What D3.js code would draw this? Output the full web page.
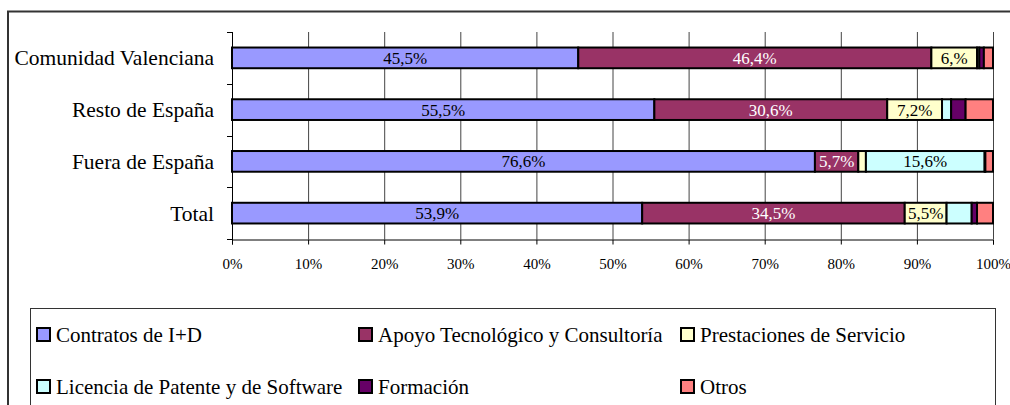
<!DOCTYPE html>
<html>
<head>
<meta charset="utf-8">
<script src="https://cdn.jsdelivr.net/npm/d3@7"></script>
<style>
  body { margin: 0; background: #fff; }
  svg { display: block; font-family: "Liberation Serif", "Times New Roman", serif; }
</style>
</head>
<body>
<svg id="chart" width="1010" height="405"></svg>
<script>
// data (percent of each row)
const categories = ["Comunidad Valenciana", "Resto de España", "Fuera de España", "Total"];
const seriesNames = ["Contratos de I+D", "Apoyo Tecnológico y Consultoría", "Prestaciones de Servicio",
	"Licencia de Patente y de Software", "Formación", "Otros"];
const contratos = [45.5, 55.5, 76.6, 53.9];
const apoyo = [46.4, 30.6, 5.7, 34.5];
const prestaciones = [6.0, 7.2, 1.0, 5.5];
const licencia = [0.3, 1.2, 15.6, 3.3];
const formacion = [0.6, 1.9, 0.1, 0.7];
const otros = [1.2, 3.6, 1.0, 2.1];
// labels shown inside the segments ("" = none)
const labContratos = ["45,5%", "55,5%", "76,6%", "53,9%"];
const labApoyo = ["46,4%", "30,6%", "5,7%", "34,5%"];
const labPrestaciones = ["6,%", "7,2%", "", "5,5%"];
const labLicencia = ["", "", "15,6%", ""];
const labFormacion = ["", "", "", ""];
const labOtros = ["", "", "", ""];
const xTicks = [0, 10, 20, 30, 40, 50, 60, 70, 80, 90, 100];

const colors = ["#9999FF", "#993366", "#FFFFCC", "#CCFFFF", "#660066", "#FF8080"];
const labelColors = ["#000", "#fff", "#000", "#000", "#fff", "#000"];

const values = [contratos, apoyo, prestaciones, licencia, formacion, otros];
const labels = [labContratos, labApoyo, labPrestaciones, labLicencia, labFormacion, labOtros];

const rows = categories.map((c, i) => {
	const r = { cat: c };
	seriesNames.forEach((s, j) => r[s] = values[j][i]);
	return r;
});
const stacked = d3.stack().keys(seriesNames)(rows);

const svg = d3.select('#chart');

// outer frame (cut by the picture edges)
svg.append('path')
	.attr('d', 'M8,410 L8,11.5 L1012,11.5')
	.attr('fill', 'none')
	.attr('stroke', '#333')
	.attr('stroke-width', 2);

const x = d3.scaleLinear().domain([0, 100]).range([232, 993]);
const y = d3.scaleBand().domain(categories).range([32, 239]).paddingInner(0.6).paddingOuter(0.3);

// vertical gridlines
svg.append('g').selectAll('line')
	.data(xTicks.slice(1))
	.join('line')
	.attr('x1', d => x(d) + 0.5).attr('x2', d => x(d) + 0.5)
	.attr('y1', 32).attr('y2', 239)
	.attr('stroke', '#444')
	.attr('stroke-width', 1);

// bottom axis
const xAxis = svg.append('g')
	.attr('transform', 'translate(0,239.5)')
	.call(d3.axisBottom(x).tickValues(xTicks).tickFormat(d => d + '%').tickSize(5).tickPadding(14));
xAxis.select('.domain').attr('stroke', '#000');
xAxis.selectAll('.tick line').attr('stroke', '#000');
xAxis.selectAll('text')
	.attr('font-family', '"Liberation Serif", "Times New Roman", serif')
	.attr('font-size', 15)
	.attr('fill', '#000');

// left axis line and tick marks at band boundaries
const bounds = d3.range(categories.length + 1).map(i => 32 + i * y.step());
svg.append('line')
	.attr('x1', 232.5).attr('x2', 232.5).attr('y1', 32).attr('y2', 240)
	.attr('stroke', '#000');
svg.append('g').selectAll('line')
	.data(bounds)
	.join('line')
	.attr('x1', 227).attr('x2', 232)
	.attr('y1', d => Math.round(d) + 0.5).attr('y2', d => Math.round(d) + 0.5)
	.attr('stroke', '#000');

svg.append('g').selectAll('text')
	.data(categories)
	.join('text')
	.attr('x', 214)
	.attr('y', d => y(d) + y.bandwidth() / 2)
	.attr('dy', '0.35em')
	.attr('text-anchor', 'end')
	.attr('font-size', 21.5)
	.text(d => d);

// bars
const layers = svg.append('g').selectAll('g')
	.data(stacked)
	.join('g')
	.attr('fill', (d, i) => colors[i]);
layers.selectAll('rect')
	.data(d => d)
	.join('rect')
	.attr('x', d => x(d[0]))
	.attr('y', d => y(d.data.cat))
	.attr('width', d => x(d[1]) - x(d[0]))
	.attr('height', y.bandwidth())
	.attr('stroke', '#000')
	.attr('stroke-width', 2);

// segment labels
stacked.forEach((layer, j) => {
	svg.append('g').selectAll('text')
		.data(layer)
		.join('text')
		.attr('x', d => (x(d[0]) + x(d[1])) / 2)
		.attr('y', d => y(d.data.cat) + y.bandwidth() / 2)
		.attr('dy', '0.35em')
		.attr('text-anchor', 'middle')
		.attr('font-size', 17)
		.attr('fill', labelColors[j])
		.text((d, i) => labels[j][i]);
});

// legend
svg.append('rect')
	.attr('x', 30.5).attr('y', 308.5)
	.attr('width', 965).attr('height', 120)
	.attr('fill', '#fff')
	.attr('stroke', '#333');
const colX = [37, 359, 681];
const rowY = [335, 387];
const items = svg.append('g').selectAll('g')
	.data(seriesNames)
	.join('g')
	.attr('transform', (d, i) => `translate(${colX[i % 3]},${rowY[Math.floor(i / 3)]})`);
items.append('rect')
	.attr('x', 0).attr('y', -7)
	.attr('width', 13).attr('height', 13)
	.attr('fill', (d, i) => colors[i])
	.attr('stroke', '#000')
	.attr('stroke-width', 2);
items.append('text')
	.attr('x', 19)
	.attr('dy', '0.35em')
	.attr('font-size', 21)
	.text(d => d);
</script>
</body>
</html>
